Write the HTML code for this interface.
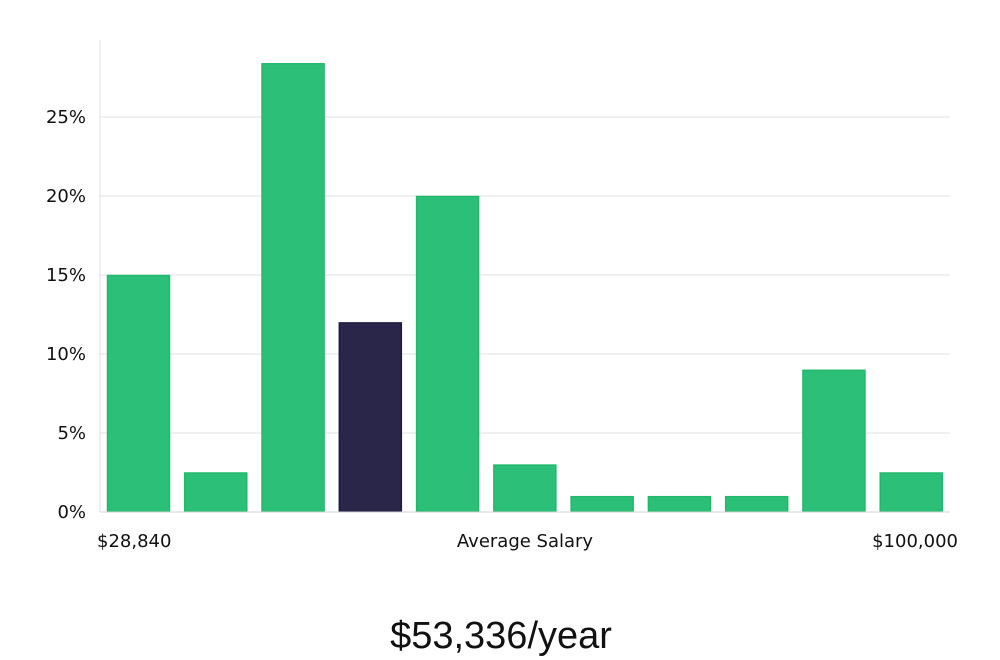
<!DOCTYPE html>
<html><head><meta charset="utf-8">
<style>
html,body{margin:0;padding:0;background:#fff;width:1000px;height:660px;overflow:hidden}
svg text{font-family:"DejaVu Sans","Liberation Sans",sans-serif}
</style></head>
<body>
<svg id="chart" width="1000" height="660" viewBox="0 0 1000 660" xmlns="http://www.w3.org/2000/svg">
<g id="grid"></g>
<g id="yticks"></g>
<g id="bars"></g>
<line x1="100" y1="40" x2="100" y2="512" stroke="#e0e0e0" stroke-width="1"/>
<line x1="100" y1="512" x2="950" y2="512" stroke="#d6d6d6" stroke-width="1"/>
<text x="97" y="547" font-size="18" fill="#111">$28,840</text>
<text x="525" y="547" font-size="18" fill="#111" text-anchor="middle">Average Salary</text>
<text x="958" y="547" font-size="18" fill="#111" text-anchor="end">$100,000</text>
<text x="501" y="648" font-size="38" fill="#111" text-anchor="middle" style="font-family:'Liberation Sans',sans-serif;font-weight:300">$53,336/year</text>
</svg>
<script>
const categories = ["b1","b2","b3","b4","b5","b6","b7","b8","b9","b10","b11"];
const values = [15, 2.5, 28.4, 12, 20, 3, 1, 1, 1, 9, 2.5];
const highlighted = [false,false,false,true,false,false,false,false,false,false,false];
const yTicks = [0,5,10,15,20,25];
const yTickLabels = ["0%","5%","10%","15%","20%","25%"];

const NS="http://www.w3.org/2000/svg";
const left=100,right=950,y0=512,pxPerPct=15.8;
function y(v){return y0-v*pxPerPct;}
const band=(right-left)/categories.length;
function x(i){return left+i*band+7;}
const bw=63;

const grid=document.getElementById('grid');
const yt=document.getElementById('yticks');
yTicks.forEach((t,i)=>{
  if(t>0){
    const l=document.createElementNS(NS,'line');
    
    
    l.setAttribute('x1',left);l.setAttribute('x2',right);
    l.setAttribute('y1',y(t));l.setAttribute('y2',y(t));
    l.setAttribute('stroke','#e2e2e2');l.setAttribute('stroke-width','1');
    grid.appendChild(l);
  }
  const tx=document.createElementNS(NS,'text');
  
  
  tx.setAttribute('x',86);tx.setAttribute('y',y(t)+6);
  tx.setAttribute('text-anchor','end');tx.setAttribute('font-size','18');tx.setAttribute('fill','#111');
  tx.textContent=yTickLabels[i];
  yt.appendChild(tx);
});
const bars=document.getElementById('bars');
values.forEach((v,i)=>{
  const r=document.createElementNS(NS,'rect');
  
  
  r.setAttribute('x',x(i)+0.5);r.setAttribute('y',y(v)+0.5);
  r.setAttribute('width',bw-1);r.setAttribute('height',Math.max(0,y0-y(v)-1));
  r.setAttribute('fill',highlighted[i]?'#29264a':'#2bbf77');
  r.setAttribute('stroke',highlighted[i]?'#1c1a3e':'#22b86c');
  r.setAttribute('stroke-width','1.5');
  bars.appendChild(r);
});
</script>
</body></html>
